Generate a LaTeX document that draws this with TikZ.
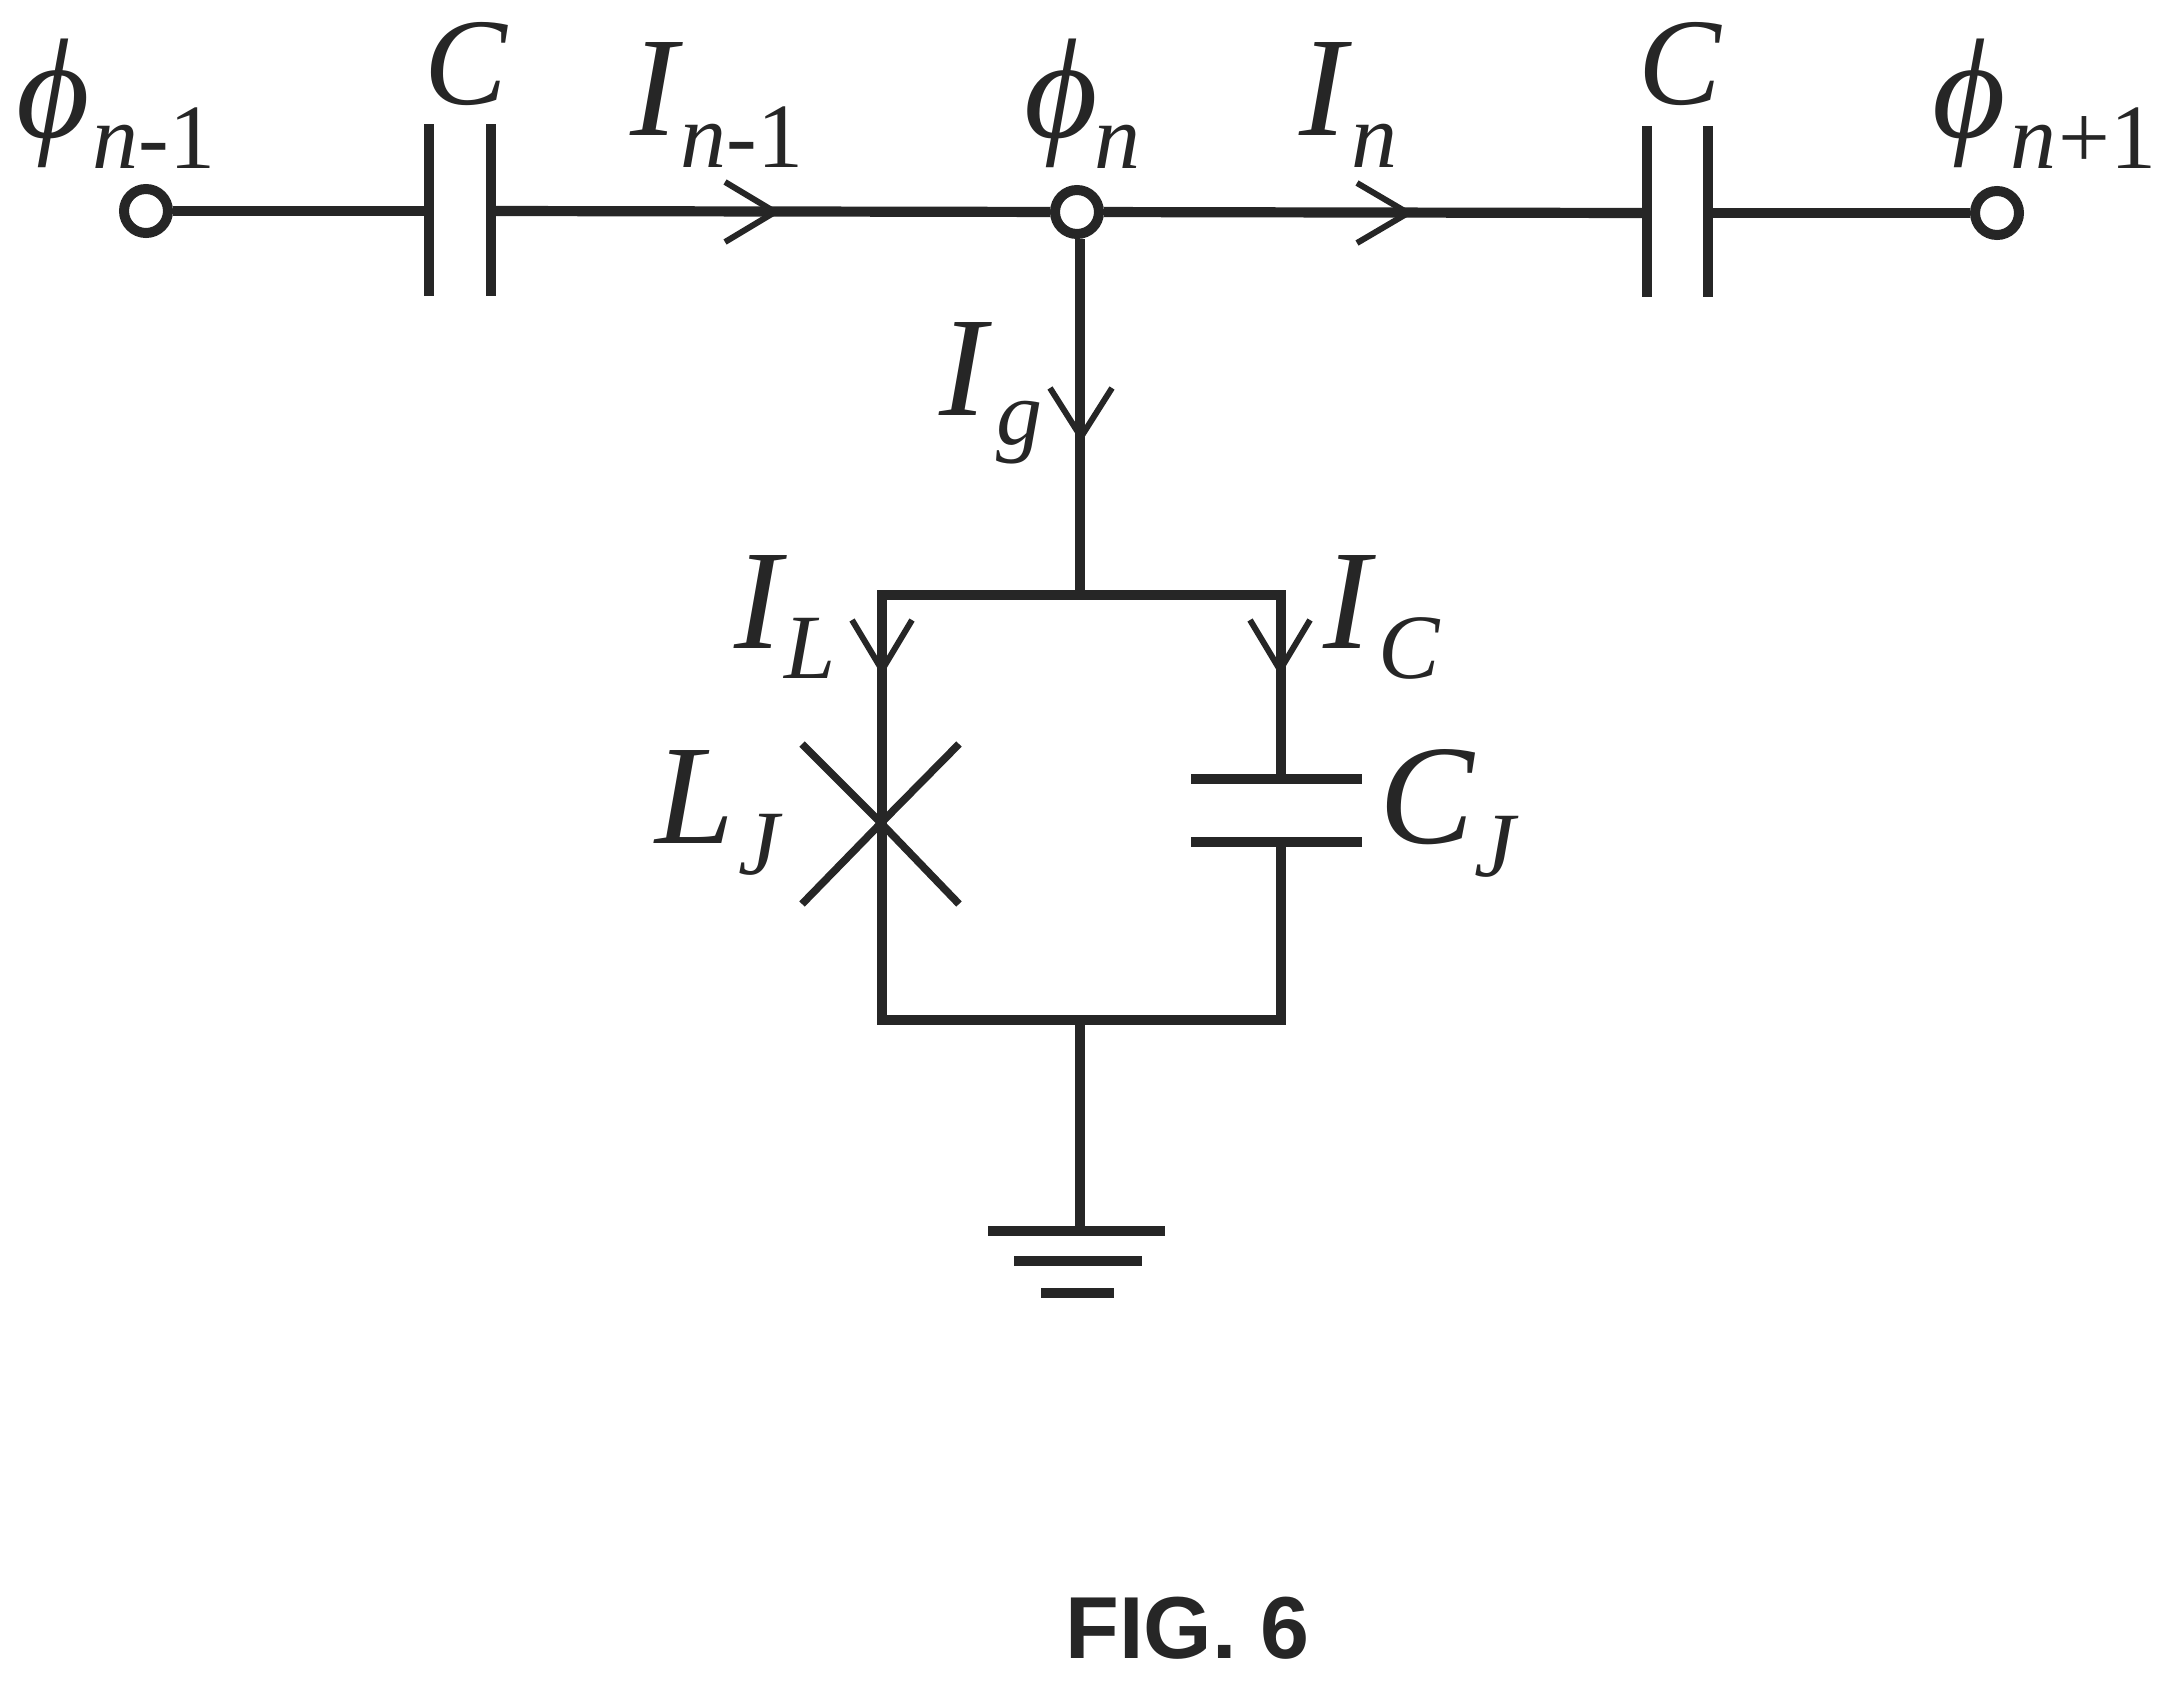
\documentclass[tikz,border=0pt]{standalone}
\usepackage{fontspec}
\setmainfont{Liberation Serif}
\newfontfamily\figfont{Liberation Sans}
\newcommand{\fsz}[1]{\fontsize{#1pt}{#1pt}\selectfont}
\definecolor{ink}{HTML}{262626}
\tikzset{
  wire/.style={draw=ink,line width=5.1pt,line cap=butt,line join=miter},
  plate/.style={draw=ink,line width=4.6pt},
  hplate/.style={draw=ink,line width=5pt},
  wing/.style={draw=ink,line width=3pt,line join=miter},
  cross/.style={draw=ink,line width=3.8pt},
  terminal/.style={circle,draw=ink,fill=white,line width=5pt,minimum size=22pt,inner sep=0pt},
  big/.style={anchor=base west,inner sep=0pt,text=ink,font=\fsz{71}\itshape},
  small/.style={anchor=base west,inner sep=0pt,text=ink,font=\fsz{46}\itshape},
  caption/.style={anchor=base west,inner sep=0pt,text=ink,font=\figfont\bfseries\fsz{44}}
}
\begin{document}
\begin{tikzpicture}[x=0.5pt,y=-0.5pt]
\useasboundingbox (0,0) rectangle (2174,1681);
% coordinates
\coordinate (capAl) at (429,211); \coordinate (capAr) at (491,211);
\coordinate (capBl) at (1647,213); \coordinate (capBr) at (1708,213);
\coordinate (top) at (1080,595); \coordinate (bot) at (1080,1020);
\coordinate (tl) at (882,595); \coordinate (tr) at (1281,595);
\coordinate (bl) at (882,1020); \coordinate (br) at (1281,1020);
\coordinate (capJt) at (1281,779); \coordinate (capJb) at (1281,842);
\coordinate (gnd) at (1080,1231);
\coordinate (j) at (881,823);
\coordinate (tipA) at (775,212); \coordinate (tipB) at (1408,213);
\coordinate (tipG) at (1081,437); \coordinate (tipL) at (882,670); \coordinate (tipC) at (1280,670);
% terminals
\node[terminal] (t1) at (146,211) {};
\node[terminal] (t2) at (1077,212) {};
\node[terminal] (t3) at (1997,213) {};
% wires
\draw[wire] (t1) -- (capAl);
\draw[wire] (capAr) -- (t2);
\draw[wire] (t2) -- (capBl);
\draw[wire] (capBr) -- (t3);
\draw[wire] (t2.south -| top) -- (top);
\draw[wire] (capJt) -- (tr) -- (tl) -- (bl) -- (br) -- (capJb);
\draw[wire] (bot) -- (gnd);
% capacitors
\draw[plate] (429,124) -- (429,296);
\draw[plate] (491,124) -- (491,296);
\draw[plate] (1647,126) -- (1647,297);
\draw[plate] (1708,126) -- (1708,297);
\draw[hplate] (1191,779) -- (1362,779);
\draw[hplate] (1191,842) -- (1362,842);
% junction
\draw[cross] (802,744) -- (j) -- (959,904);
\draw[cross] (959,744) -- (j) -- (802,904);
% ground
\draw[hplate] (988,1231) -- (1165,1231);
\draw[hplate] (1014,1261) -- (1142,1261);
\draw[hplate] (1041,1293) -- (1114,1293);
% arrows
\draw[wing] (tipA) ++(-50,-30) -- (tipA) -- ++(-50,30);
\draw[wing] (tipB) ++(-51,-30) -- (tipB) -- ++(-51,30);
\draw[wing] (tipG) ++(-31,-49) -- (tipG) -- ++(31,-49);
\draw[wing] (tipL) ++(-30,-50) -- (tipL) -- ++(30,-50);
\draw[wing] (tipC) ++(-30,-50) -- (tipC) -- ++(30,-50);
% labels
\node[big] (phiA) at (16,137) {ϕ};
\node[small] (subA) at (92,168) {n{\upshape -1}};
\node[big,font=\fsz{62}\itshape] (cA) at (424,104) {C};
\node[big] (iA) at (630,135) {I};
\node[small] (subIA) at (680,167) {n{\upshape -1}};
\node[big] (phiB) at (1024,137) {ϕ};
\node[small] (subB) at (1094,168) {n};
\node[big] (iB) at (1299,135) {I};
\node[small] (subIB) at (1351,167) {n};
\node[big,font=\fsz{62}\itshape] (cB) at (1638,104) {C};
\node[big] (phiC) at (1932,137) {ϕ};
\node[small] (subC) at (2010,168) {n{\upshape\kern1pt +1}};
\node[big] (iG) at (939,415) {I};
\node[small] (subG) at (996,444) {g};
\node[big] (iL) at (734,648) {I};
\node[small] (subL) at (784,678) {L};
\node[big] (iC) at (1323,648) {I};
\node[small] (subCc) at (1378,678) {C};
\node[big] (lJ) at (655,843) {L};
\node[small] (subLJ) at (738,874) {J};
\node[big] (cJ) at (1379,843) {C};
\node[small] (subCJ) at (1474,876) {J};
\node[caption] (fig) at (1065,1658) {FIG. 6};
\end{tikzpicture}
\end{document}
